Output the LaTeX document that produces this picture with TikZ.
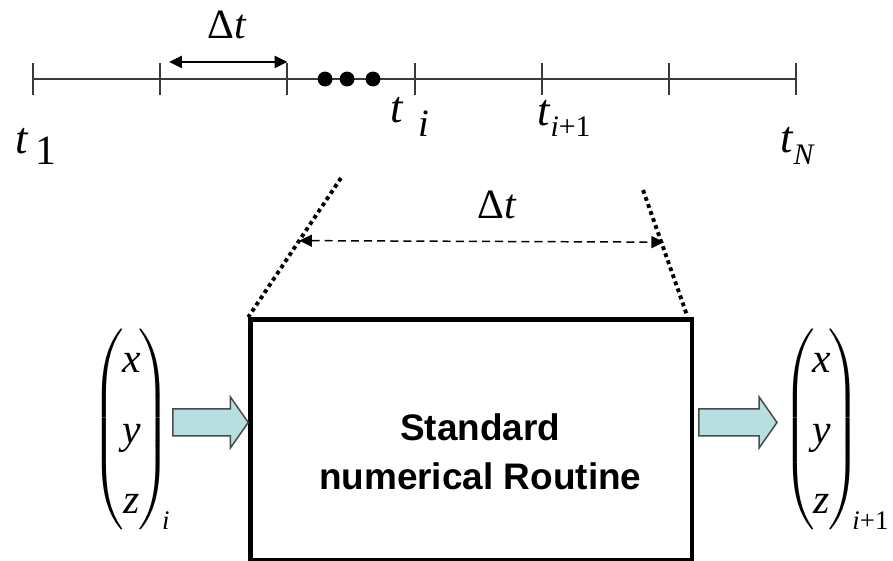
\documentclass[tikz,border=0pt]{standalone}
\usepackage{amsmath}
\usepackage{fontspec}
\setmainfont{Liberation Serif}
\setsansfont{Liberation Sans}
\usepackage{tikz}
\usetikzlibrary{positioning,arrows.meta,calc}
\definecolor{axgray}{HTML}{3A3A3A}
\definecolor{flowfill}{HTML}{B7DEE0}
\definecolor{flowdraw}{HTML}{4A4A4A}
\renewcommand{\arraystretch}{1.35}
\delimiterfactor=860
\delimitershortfall=22pt
% lowered index: kern, drop, size, text
\newcommand{\lowsub}[4]{\hspace{#1}\raisebox{-#2}{\fontsize{#3}{#3}\selectfont #4}}
\newcommand{\vsub}[1]{\hbox{\kern-6pt\raisebox{5pt}{\fontsize{18}{18}\selectfont\itshape #1}}}
\newcommand{\xyz}{\left(\mkern-1mu\begin{tabular}{@{}c@{}}x\\y\\z\end{tabular}\mkern-1mu\right)}
\tikzset{
  timeaxis/.style ={draw=axgray, line width=1.3pt},
  tickmark/.style ={draw=axgray, line width=1.3pt},
  bullet/.style   ={circle, fill=black, minimum size=10pt, inner sep=0pt},
  tlabel/.style   ={font=\fontsize{30}{34}\selectfont, inner sep=0pt, anchor=base west},
  dlabel/.style   ={font=\fontsize{28}{32}\selectfont, inner sep=0pt, anchor=base},
  vec/.style      ={font=\fontsize{28}{35}\selectfont\itshape, inner sep=0pt},
  dtspan/.style   ={{Triangle[length=8.5pt,width=8pt]}-{Triangle[length=8.5pt,width=8pt]}, line width=1.3pt},
  dtdash/.style   ={dtspan, line width=1pt, dash pattern=on 5.4pt off 3.4pt},
  zoomline/.style ={line width=2.6pt, dash pattern=on 2.6pt off 2.4pt},
  routine/.style  ={draw, line width=3.2pt, minimum width=10.41cm, minimum height=5.67cm, inner sep=0pt},
  rtext/.style    ={font=\sffamily\bfseries\fontsize{24.8}{33}\selectfont, align=center, inner sep=0pt},
  fatarrow/.style ={draw=flowdraw, fill=flowfill, line width=1pt, line join=miter},
}
% block arrow, tail -> tip (both at the same height)
\newcommand{\fatarrow}[2]{%
  \draw[fatarrow] ($(#1)+(0,0.106)$) -- ($(#2)+(-0.14,0.106)$)
    -- ($(#2)+(-0.14,0.2)$) -- (#2) -- ($(#2)+(-0.14,-0.2)$)
    -- ($(#2)+(-0.14,-0.106)$) -- ($(#1)+(0,-0.106)$) -- cycle;}

\begin{document}
\begin{tikzpicture}[x=3cm,y=3cm]
  \useasboundingbox (-0.2594,-3.7814) rectangle (6.7610,0.6211);
  % time axis
  \draw[timeaxis] (0,0) -- (6,0);
  \foreach \k in {0,...,6}{
    \coordinate (tk\k) at (\k,0);
    \draw[tickmark] (\k,-0.125) -- (\k,0.125);}
  \foreach \xx [count=\n] in {2.296,2.469,2.673}
    \node[bullet] (dot\n) at (\xx,0) {};
  \node[tlabel] (t1)  at (-0.142,-0.582) {\textit{t}\lowsub{5pt}{8pt}{28}{1}};
  \node[tlabel] (ti)  at (2.807,-0.338)  {\textit{t}\lowsub{10pt}{10pt}{26}{\itshape i}};
  \node[tlabel] (tii) at (3.962,-0.362)  {\textit{t}\lowsub{0pt}{8pt}{20}{\textit{i}+1}};
  \node[tlabel] (tN)  at (5.873,-0.574)  {\textit{t}\lowsub{0pt}{8.7pt}{20}{\itshape N}};
  \coordinate (dA) at ($(tk1)+(0.07,0.134)$);
  \coordinate (dB) at ($(tk2)+(0,0.134)$);
  \draw[dtspan] (dA) -- (dB);
  \node[dlabel] (dt1) at (1.529,0.322) {Δ\textit{t}};

  % routine box and zoom lines
  \node[routine] (box) at (3.446,-2.836) {};
  \node[rtext] (rlbl) at ($(box.center)+(0.07,-0.094)$) {Standard\\numerical Routine};
  \coordinate (zL) at (2.421,-0.778);
  \coordinate (zR) at (4.796,-0.873);
  \draw[zoomline] (zL) -- (box.north west);
  \draw[zoomline] (zR) -- ($(box.north east)+(-0.06,0.02)$);
  \draw[dtdash] ($(zL)!0.45!(box.north west)$) -- ($(zR)!0.41!(box.north east)$);
  \node[dlabel] (dt2) at (3.652,-1.093) {Δ\textit{t}};

  % state vectors
  \node[vec] (vin) at (0.77,-2.76) {$\xyz_{\vsub{i}}$};
  \node[vec] (vout) at (6.31,-2.76) {$\xyz_{\vsub{i\upshape+1}}$};
  \coordinate (inT) at (1.10,-2.70);
  \coordinate (inH) at (box.west |- inT);
  \coordinate (outT) at ([xshift=3pt]box.east |- inT);
  \coordinate (outH) at (5.849,-2.70);
  \fatarrow{inT}{inH}
  \fatarrow{outT}{outH}
\end{tikzpicture}
\end{document}
